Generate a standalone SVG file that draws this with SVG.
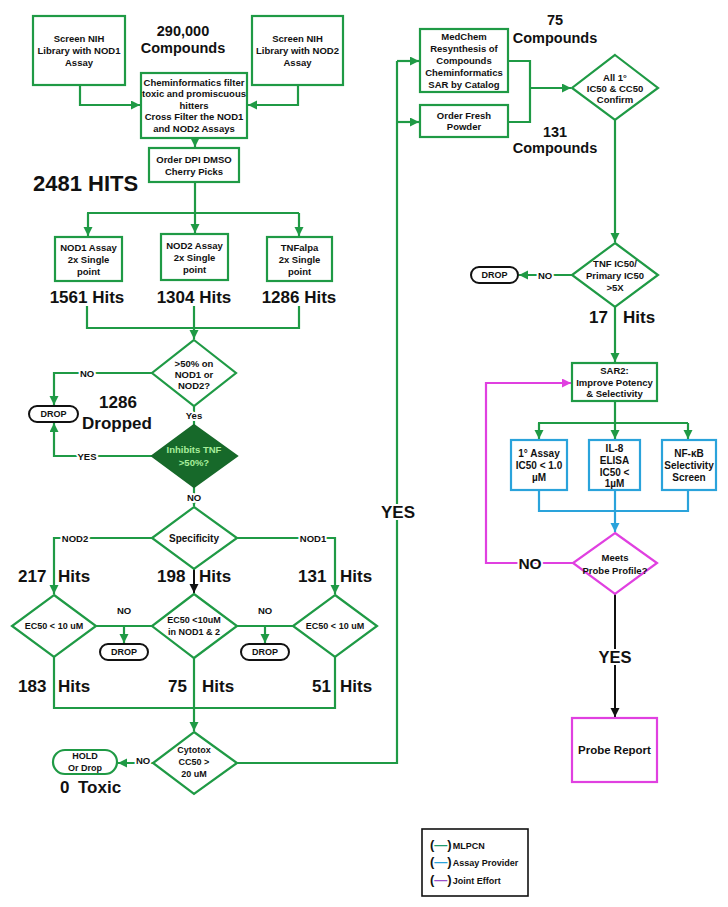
<svg xmlns="http://www.w3.org/2000/svg" width="728" height="907" viewBox="0 0 728 907">
<defs>
<style>
text{font-family:"Liberation Sans",Arial,Helvetica,sans-serif;font-weight:bold;fill:#111}
.s{font-size:9.5px;text-anchor:middle;dominant-baseline:central}
.s9{font-size:9px}
.s10{font-size:10px}
.b{font-size:17px}
.m{font-size:14.5px;text-anchor:middle}
.box{fill:#fff;stroke:#1f9a45;stroke-width:2.2}
.bbox{fill:#fff;stroke:#2aa3db;stroke-width:2.2}
.mbox{fill:#fff;stroke:#e040e0;stroke-width:2.2}
.pill{fill:#fff;stroke:#111;stroke-width:2}
.g{fill:none;stroke:#1f9a45;stroke-width:2.2}
.k{fill:none;stroke:#111;stroke-width:2}
.bl{fill:none;stroke:#2aa3db;stroke-width:2.2}
.mg{fill:none;stroke:#e040e0;stroke-width:2.2}
.halo{stroke:#fff;stroke-width:4;paint-order:stroke;stroke-linejoin:round}
</style>
<marker id="ag" markerUnits="userSpaceOnUse" markerWidth="10" markerHeight="10" refX="9" refY="4.5" orient="auto"><path d="M0,0 L9,4.5 L0,9 z" fill="#1f9a45"/></marker>
<marker id="ak" markerUnits="userSpaceOnUse" markerWidth="10" markerHeight="10" refX="9" refY="4.5" orient="auto"><path d="M0,0 L9,4.5 L0,9 z" fill="#111"/></marker>
<marker id="ab" markerUnits="userSpaceOnUse" markerWidth="10" markerHeight="10" refX="9" refY="4.5" orient="auto"><path d="M0,0 L9,4.5 L0,9 z" fill="#2aa3db"/></marker>
<marker id="am" markerUnits="userSpaceOnUse" markerWidth="10" markerHeight="10" refX="9" refY="4.5" orient="auto"><path d="M0,0 L9,4.5 L0,9 z" fill="#e040e0"/></marker>
</defs>
<rect x="0" y="0" width="728" height="907" fill="#fff"/>

<g id="connectors">
<polyline class="g" points="80,85 80,105 140,105" marker-end="url(#ag)"/>
<polyline class="g" points="298,85 298,105 248,105" marker-end="url(#ag)"/>
<line class="g" x1="195" y1="138" x2="195" y2="147" marker-end="url(#ag)"/>
<line class="g" x1="195" y1="182" x2="195" y2="213"/>
<line class="g" x1="87" y1="213" x2="299" y2="213"/>
<line class="g" x1="88" y1="213" x2="88" y2="236" marker-end="url(#ag)"/>
<line class="g" x1="195" y1="213" x2="195" y2="233" marker-end="url(#ag)"/>
<line class="g" x1="299" y1="213" x2="299" y2="236" marker-end="url(#ag)"/>
<polyline class="g" points="87,306 87,328 299,328 299,306"/>
<line class="g" x1="194" y1="306" x2="194" y2="339" marker-end="url(#ag)"/>
<polyline class="g" points="152,373 54,373 54,405" marker-end="url(#ag)"/>
<line class="g" x1="194" y1="406" x2="194" y2="425"/>
<polyline class="g" points="152,456 54,456 54,423" marker-end="url(#ag)"/>
<line class="g" x1="194" y1="487" x2="194" y2="506" marker-end="url(#ag)"/>
<polyline class="g" points="152,538 54,538 54,594" marker-end="url(#ag)"/>
<polyline class="g" points="237,538 335,538 335,594" marker-end="url(#ag)"/>
<line class="k" x1="194" y1="569" x2="194" y2="593" marker-end="url(#ak)"/>
<line class="g" x1="96" y1="626" x2="152" y2="626"/>
<line class="g" x1="124" y1="626" x2="124" y2="643" marker-end="url(#ag)"/>
<line class="g" x1="237" y1="626" x2="293" y2="626"/>
<line class="g" x1="265" y1="626" x2="265" y2="643" marker-end="url(#ag)"/>
<polyline class="g" points="54,657 54,708 335,708 335,657"/>
<line class="g" x1="194" y1="658" x2="194" y2="731" marker-end="url(#ag)"/>
<line class="g" x1="153" y1="763" x2="118" y2="763" marker-end="url(#ag)"/>
<polyline class="g" points="237,763 397,763 397,61"/>
<line class="g" x1="397" y1="61" x2="419" y2="61" marker-end="url(#ag)"/>
<line class="g" x1="397" y1="122" x2="419" y2="122" marker-end="url(#ag)"/>
<polyline class="g" points="508,61 530,61 530,122 508,122"/>
<line class="g" x1="530" y1="88" x2="571" y2="88" marker-end="url(#ag)"/>
<line class="g" x1="615" y1="120" x2="615" y2="242" marker-end="url(#ag)"/>
<line class="g" x1="572" y1="275" x2="519" y2="275" marker-end="url(#ag)"/>
<line class="g" x1="615" y1="307" x2="615" y2="362" marker-end="url(#ag)"/>
<line class="g" x1="615" y1="401" x2="615" y2="423"/>
<line class="g" x1="538" y1="423" x2="688" y2="423"/>
<line class="g" x1="539" y1="423" x2="539" y2="439" marker-end="url(#ag)"/>
<line class="g" x1="615" y1="423" x2="615" y2="439" marker-end="url(#ag)"/>
<line class="g" x1="688" y1="423" x2="688" y2="439" marker-end="url(#ag)"/>
<polyline class="bl" points="539,490 539,511 688,511 688,490"/>
<line class="bl" x1="615" y1="490" x2="615" y2="532" marker-end="url(#ab)"/>
<polyline class="mg" points="573,563 486,563 486,383 571,383" marker-end="url(#am)"/>
<line class="k" x1="615" y1="594" x2="615" y2="717" marker-end="url(#ak)"/>
<text class="s halo" x="87" y="373">NO</text>
<text class="s halo" x="194" y="415">Yes</text>
<text class="s halo" x="87" y="456">YES</text>
<text class="s halo" x="194" y="497">NO</text>
<text class="s halo" x="75" y="538">NOD2</text>
<text class="s halo" x="313" y="538">NOD1</text>
<text class="s" x="124" y="610">NO</text>
<text class="s" x="265" y="610">NO</text>
<text class="s halo" x="143" y="760">NO</text>
<text class="halo" x="398" y="518" font-size="17" text-anchor="middle">YES</text>
<text class="s halo" x="545" y="275">NO</text>
<text class="halo" x="530" y="569" font-size="15.5" text-anchor="middle">NO</text>
<text class="halo" x="615" y="663" font-size="16.5" text-anchor="middle">YES</text>
</g>

<g id="screen-nod1">
<rect class="box" x="33" y="16" width="92" height="69"/>
<text class="s" x="79" y="38">Screen NIH</text>
<text class="s" x="79" y="50">Library with NOD1</text>
<text class="s" x="79" y="62">Assay</text>
</g>
<g id="screen-nod2">
<rect class="box" x="252" y="16" width="91" height="69"/>
<text class="s" x="297.5" y="38">Screen NIH</text>
<text class="s" x="297.5" y="50">Library with NOD2</text>
<text class="s" x="297.5" y="62">Assay</text>
</g>
<g id="label-290000">
<text class="m" x="183" y="36">290,000</text>
<text class="m" x="183" y="53">Compounds</text>
</g>
<g id="cheminf-filter">
<rect class="box" x="141" y="73" width="106" height="65"/>
<text class="s" x="194" y="82">Cheminformatics filter</text>
<text class="s" x="194" y="93.5">toxic and promiscuous</text>
<text class="s" x="194" y="105">hitters</text>
<text class="s" x="194" y="116.5">Cross Filter the NOD1</text>
<text class="s" x="194" y="128">and NOD2 Assays</text>
</g>
<g id="order-dpi">
<rect class="box" x="149" y="148" width="90" height="34"/>
<text class="s" x="194" y="159">Order DPI DMSO</text>
<text class="s" x="194" y="171">Cherry Picks</text>
</g>
<g id="label-2481">
<text x="33" y="191" font-size="22">2481 HITS</text>
</g>
<g id="nod1-assay">
<rect class="box" x="55" y="237" width="67" height="44"/>
<text class="s" x="88.5" y="247.5">NOD1 Assay</text>
<text class="s" x="88.5" y="259">2x Single</text>
<text class="s" x="88.5" y="271">point</text>
</g>
<g id="nod2-assay">
<rect class="box" x="161" y="234" width="67" height="46"/>
<text class="s" x="194.5" y="245">NOD2 Assay</text>
<text class="s" x="194.5" y="257">2x Single</text>
<text class="s" x="194.5" y="269">point</text>
</g>
<g id="tnf-assay">
<rect class="box" x="267" y="237" width="65" height="44"/>
<text class="s" x="299.5" y="247.5">TNFalpa</text>
<text class="s" x="299.5" y="259">2x Single</text>
<text class="s" x="299.5" y="271">point</text>
</g>
<g id="hits-row1">
<text class="b" x="87" y="303" text-anchor="middle">1561 Hits</text>
<text class="b" x="194" y="303" text-anchor="middle">1304 Hits</text>
<text class="b" x="299" y="303" text-anchor="middle">1286 Hits</text>
</g>
<g id="d-50pct">
<polygon class="box" points="194,340 236,373 194,406 152,373"/>
<text class="s" x="194" y="363">&gt;50% on</text>
<text class="s" x="194" y="374">NOD1 or</text>
<text class="s" x="194" y="385">NOD2?</text>
</g>
<g id="drop1">
<rect class="pill" x="29" y="406" width="49" height="16" rx="8"/>
<text class="s s9" x="53.5" y="414">DROP</text>
</g>
<g id="label-1286-dropped">
<text class="b" x="118" y="408" text-anchor="middle">1286</text>
<text class="b" x="117" y="429" text-anchor="middle">Dropped</text>
</g>
<g id="d-inhibits">
<polygon points="194,425 237,456 194,487 152,456" fill="#17692a" stroke="#17692a" stroke-width="2"/>
<text class="s" x="194" y="449" style="fill:#a8ee9c">Inhibits TNF</text>
<text class="s" x="194" y="462" style="fill:#a8ee9c">&gt;50%?</text>
</g>
<g id="d-specificity">
<polygon class="box" points="194,507 237,538 194,569 152,538"/>
<text class="s s10" x="194" y="538">Specificity</text>
</g>
<g id="hits-row2">
<text class="b"><tspan x="18" y="582">217</tspan><tspan x="58" y="582">Hits</tspan></text>
<text class="b"><tspan x="157" y="582">198</tspan><tspan x="199" y="582">Hits</tspan></text>
<text class="b"><tspan x="298" y="582">131</tspan><tspan x="340" y="582">Hits</tspan></text>
</g>
<g id="d-ec50-left">
<polygon class="box" points="54,595 96,626 54,657 12,626"/>
<text class="s s9" x="54" y="626">EC50 &lt; 10 uM</text>
</g>
<g id="d-ec50-mid">
<polygon class="box" points="194,594 237,626 194,658 152,626"/>
<text class="s s9" x="194" y="620">EC50 &lt;10uM</text>
<text class="s s9" x="194" y="632">in NOD1 &amp; 2</text>
</g>
<g id="d-ec50-right">
<polygon class="box" points="335,595 377,626 335,657 293,626"/>
<text class="s s9" x="335" y="626">EC50 &lt; 10 uM</text>
</g>
<g id="drop2">
<rect class="pill" x="100" y="644" width="48" height="16" rx="8"/>
<text class="s s9" x="124" y="652">DROP</text>
</g>
<g id="drop3">
<rect class="pill" x="241" y="644" width="48" height="16" rx="8"/>
<text class="s s9" x="265" y="652">DROP</text>
</g>
<g id="hits-row3">
<text class="b"><tspan x="18" y="692">183</tspan><tspan x="58" y="692">Hits</tspan></text>
<text class="b"><tspan x="168" y="692">75</tspan><tspan x="202" y="692">Hits</tspan></text>
<text class="b"><tspan x="312" y="692">51</tspan><tspan x="340" y="692">Hits</tspan></text>
</g>
<g id="d-cytotox">
<polygon class="box" points="194,732 237,763 194,794 153,763"/>
<text class="s s9" x="194" y="750">Cytotox</text>
<text class="s s9" x="194" y="762">CC50 &gt;</text>
<text class="s s9" x="194" y="774">20 uM</text>
</g>
<g id="hold-drop">
<rect class="box" x="53" y="750" width="64" height="24" rx="12"/>
<text class="s s9" x="85" y="756">HOLD</text>
<text class="s s9" x="85" y="768">Or Drop</text>
</g>
<g id="label-0-toxic">
<text class="b"><tspan x="60" y="793">0</tspan><tspan x="78" y="793">Toxic</tspan></text>
</g>
<g id="medchem">
<rect class="box" x="420" y="29" width="88" height="63"/>
<text class="s" x="464" y="36.5">MedChem</text>
<text class="s" x="464" y="48.5">Resynthesis of</text>
<text class="s" x="464" y="60.5">Compounds</text>
<text class="s" x="464" y="72.5">Cheminformatics</text>
<text class="s" x="464" y="84.5">SAR by Catalog</text>
</g>
<g id="order-fresh">
<rect class="box" x="420" y="105" width="88" height="32"/>
<text class="s" x="464" y="115.5">Order Fresh</text>
<text class="s" x="464" y="126.5">Powder</text>
</g>
<g id="label-75-compounds">
<text class="m" x="555" y="25">75</text>
<text class="m" x="555" y="43">Compounds</text>
</g>
<g id="label-131-compounds">
<text class="m" x="555" y="137">131</text>
<text class="m" x="555" y="153">Compounds</text>
</g>
<g id="d-confirm">
<polygon class="box" points="615,55 658,88 615,120 572,88"/>
<text class="s" x="615" y="77">All 1°</text>
<text class="s" x="615" y="88">IC50 &amp; CC50</text>
<text class="s" x="615" y="99">Confirm</text>
</g>
<g id="d-tnf-ratio">
<polygon class="box" points="615,243 658,275 615,307 572,275"/>
<text class="s" x="615" y="263">TNF IC50/</text>
<text class="s" x="615" y="275">Primary IC50</text>
<text class="s" x="615" y="287">&gt;5X</text>
</g>
<g id="drop4">
<rect class="pill" x="471" y="267" width="47" height="16" rx="8"/>
<text class="s s9" x="494.5" y="275">DROP</text>
</g>
<g id="hits-17">
<text class="b"><tspan x="589" y="323">17</tspan><tspan x="623" y="323">Hits</tspan></text>
</g>
<g id="sar2">
<rect class="box" x="572" y="363" width="85" height="38"/>
<text class="s" x="614.5" y="370.5">SAR2:</text>
<text class="s" x="614.5" y="382">Improve Potency</text>
<text class="s" x="614.5" y="393.5">&amp; Selectivity</text>
</g>
<g id="assay-primary">
<rect class="bbox" x="511" y="440" width="56" height="50"/>
<text class="s s10" x="539" y="453">1°  Assay</text>
<text class="s s10" x="539" y="465">IC50 &lt; 1.0</text>
<text class="s s10" x="539" y="477">µM</text>
</g>
<g id="assay-il8">
<rect class="bbox" x="589" y="440" width="51" height="50"/>
<text class="s s10" x="614.5" y="448">IL-8</text>
<text class="s s10" x="614.5" y="460">ELISA</text>
<text class="s s10" x="614.5" y="472">IC50 &lt;</text>
<text class="s s10" x="614.5" y="483.5">1µM</text>
</g>
<g id="assay-nfkb">
<rect class="bbox" x="662" y="440" width="54" height="50"/>
<text class="s s10" x="689" y="453">NF-κB</text>
<text class="s s10" x="689" y="465">Selectivity</text>
<text class="s s10" x="689" y="477">Screen</text>
</g>
<g id="d-meets-profile">
<polygon class="mbox" points="615,533 657,563 615,594 573,563"/>
<text class="s" x="615" y="557">Meets</text>
<text class="s" x="615" y="570">Probe Profile?</text>
</g>
<g id="probe-report">
<rect class="mbox" x="572" y="718" width="85" height="64"/>
<text class="s" x="614.5" y="750" style="font-size:11.5px">Probe Report</text>
</g>
<g id="legend">
<rect x="422" y="829" width="106" height="67" fill="#fff" stroke="#111" stroke-width="1.6"/>
<text x="430" y="849" font-size="13">(<tspan fill="#1f9a6e">—</tspan>)<tspan font-size="9" dx="1">MLPCN</tspan></text>
<text x="430" y="866" font-size="13">(<tspan fill="#2aa3db">—</tspan>)<tspan font-size="9" dx="1">Assay Provider</tspan></text>
<text x="430" y="884" font-size="13">(<tspan fill="#9b4fc9">—</tspan>)<tspan font-size="9" dx="1">Joint Effort</tspan></text>
</g>
</svg>
